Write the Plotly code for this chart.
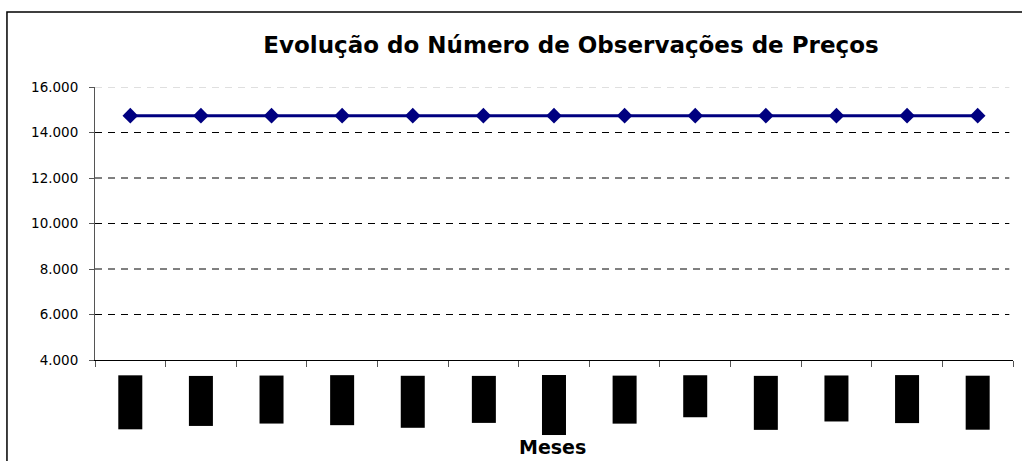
import plotly.graph_objects as go

# ---- data ----
months = ["dez/06", "jan/07", "fev/07", "mar/07", "abr/07", "mai/07", "jun/07",
          "jul/07", "ago/07", "set/07", "out/07", "nov/07", "dez/07"]
observacoes = [14740, 14740, 14740, 14740, 14740, 14740, 14740,
               14740, 14740, 14740, 14740, 14740, 14740]
y_ticks = [4000, 6000, 8000, 10000, 12000, 14000, 16000]
y_tick_labels = ["4.000", "6.000", "8.000", "10.000", "12.000", "14.000", "16.000"]

# style: apparent length (px) of each (blacked-out) rotated month label
label_box_len = [53, 49, 47, 49, 51, 46, 59, 47, 41, 53, 45, 47, 53]

FONT = "Liberation Sans, Arial, sans-serif"
WIDE = "DejaVu Sans, Verdana, sans-serif"

fig = go.Figure()
fig.add_trace(go.Scatter(
    x=months, y=observacoes, mode="lines+markers",
    line=dict(color="#000080", width=3),
    marker=dict(symbol="diamond", size=12, color="#000080"),
    showlegend=False, hoverinfo="x+y",
))

annotations = []
for m, L in zip(months, label_box_len):
    annotations.append(dict(
        x=m, xref="x", y=-0.055, yref="paper",
        text=m, showarrow=False, textangle=-90,
        xanchor="center", yanchor="top",
        width=L, height=23, align="right",
        font=dict(family=FONT, size=9, color="black"),
        bgcolor="black", borderpad=0,
    ))
annotations.append(dict(
    x=0.498, xref="paper", y=-0.319, yref="paper",
    text="<b>Meses</b>", showarrow=False,
    xanchor="center", yanchor="middle",
    font=dict(family=WIDE, size=19, color="black"),
))

shapes = []
top = max(y_ticks)
for t in y_ticks[1:]:
    shapes.append(dict(
        type="line", xref="paper", yref="y", x0=0, x1=0.996, y0=t, y1=t,
        line=dict(color="#c0c0c0" if t == top else "black", width=1, dash="7px,6px"),
        layer="below",
    ))
shapes.append(dict(type="rect", xref="paper", yref="paper",
                   x0=-0.0959, x1=1.02, y0=-0.6, y1=1.2747,
                   line=dict(color="black", width=1.5), fillcolor="rgba(0,0,0,0)",
                   layer="below"))

fig.update_layout(
    width=1022, height=461,
    margin=dict(l=95, r=9, t=87, b=101),
    paper_bgcolor="white", plot_bgcolor="white",
    separators=",.",
    title=dict(text="<b>Evolução do Número de Observações de Preços</b>",
               x=0.5185, xref="paper", xanchor="center",
               y=0.902, yref="container", yanchor="middle",
               font=dict(family=WIDE, size=23, color="black")),
    xaxis=dict(type="category", range=[-0.5, 12.5], showticklabels=False,
               tickson="boundaries", ticks="outside", ticklen=6,
               tickcolor="#555555", showline=True, linecolor="black",
               linewidth=1, showgrid=False, zeroline=False),
    yaxis=dict(range=[4000, 16000], tickmode="array", tickvals=y_ticks,
               ticktext=y_tick_labels, ticks="outside", ticklen=5,
               tickcolor="#555555", showline=True, linecolor="#555555",
               linewidth=1, showgrid=False, zeroline=False,
               ticklabelstandoff=8,
               tickfont=dict(family=WIDE, size=13.5, color="black")),
    annotations=annotations,
    shapes=shapes,
)

fig.write_html("out.html", config={"displayModeBar": False},
               post_script="document.body.style.margin='0';")
